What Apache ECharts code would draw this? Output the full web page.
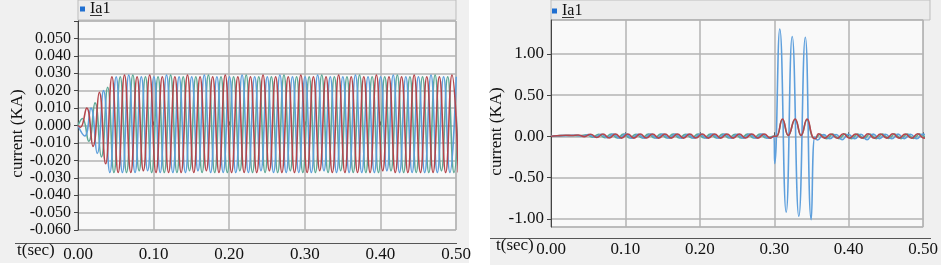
<!DOCTYPE html>
<html>
<head>
<meta charset="utf-8">
<script src="https://cdn.jsdelivr.net/npm/echarts@6/dist/echarts.min.js"></script>
<style>
html,body{margin:0;padding:0;background:#fff;}
#chart{width:941px;height:265px;}
</style>
</head>
<body>
<div id="chart"></div>
<script>
//半周期（从波峰间距读出，60Hz）
var halfPeriod = 0.00833;

//左图：正常运行 各相波峰值
var leftRedStart = 0.0032;
var leftRedPeaks = [-0.001, 0.010, -0.012, 0.019, -0.022, 0.028,
	-0.027, 0.029, -0.027, 0.028, -0.026, 0.029, -0.027, 0.028, -0.027, 0.028,
	-0.027, 0.029, -0.027, 0.028, -0.026, 0.028, -0.027, 0.029, -0.027, 0.028,
	-0.027, 0.028, -0.027, 0.029, -0.026, 0.028, -0.027, 0.028, -0.027, 0.029,
	-0.027, 0.028, -0.026, 0.028, -0.027, 0.029, -0.027, 0.028, -0.027, 0.028,
	-0.027, 0.029, -0.026, 0.028, -0.027, 0.028, -0.027, 0.029, -0.027, 0.028,
	-0.027, 0.028, -0.027, 0.029, -0.027];
var leftBlueStart = 0.0088;
var leftBluePeaks = [-0.006, 0.010, -0.016, 0.020, -0.027,
	0.028, -0.027, 0.029, -0.027, 0.028, -0.026, 0.028, -0.027, 0.029, -0.027,
	0.028, -0.027, 0.028, -0.026, 0.029, -0.027, 0.028, -0.027, 0.028, -0.027,
	0.029, -0.027, 0.028, -0.026, 0.028, -0.027, 0.029, -0.027, 0.028, -0.027,
	0.028, -0.027, 0.029, -0.026, 0.028, -0.027, 0.028, -0.027, 0.029, -0.027,
	0.028, -0.027, 0.028, -0.026, 0.029, -0.027, 0.028, -0.027, 0.028, -0.027,
	0.029, -0.027, 0.028, -0.027, 0.028];
var leftTealStart = 0.0059;
var leftTealPeaks = [0.004, -0.009, 0.013, -0.018, 0.022, -0.027,
	0.028, -0.027, 0.029, -0.026, 0.028, -0.027, 0.028, -0.027, 0.029, -0.027,
	0.028, -0.026, 0.028, -0.027, 0.029, -0.027, 0.028, -0.027, 0.028, -0.026,
	0.029, -0.027, 0.028, -0.027, 0.028, -0.027, 0.029, -0.026, 0.028, -0.027,
	0.028, -0.027, 0.029, -0.027, 0.028, -0.026, 0.028, -0.027, 0.029, -0.027,
	0.028, -0.027, 0.028, -0.026, 0.029, -0.027, 0.028, -0.027, 0.028, -0.027,
	0.029, -0.026, 0.028, -0.027, 0.028];

//右图：故障前 各相波峰值
var rightRedPre = [0.004, 0.008, 0.012, 0.010, 0.016, -0.004, 0.024, -0.014, 0.028, -0.020,
	0.028, -0.022, 0.027, -0.022, 0.028, -0.021, 0.028, -0.022, 0.027, -0.022,
	0.028, -0.022, 0.028, -0.021, 0.027, -0.022, 0.028, -0.022, 0.028, -0.022,
	0.027, -0.021, 0.028, -0.022, 0.028, -0.022];
var rightBluePre = [0.006, 0.008, 0.010, 0.012, 0.002, 0.020, -0.012, 0.024, -0.018,
	0.026, -0.024, 0.026, -0.024, 0.025, -0.024, 0.026, -0.023, 0.026, -0.024, 0.026,
	-0.024, 0.025, -0.024, 0.026, -0.024, 0.026, -0.023, 0.026, -0.024, 0.025,
	-0.024, 0.026, -0.024, 0.026, -0.024];
var rightTealPre = [0.004, 0.008, 0.010, 0.010, 0.006, 0.018, -0.010, 0.024, -0.016,
	0.026, -0.020, 0.026, -0.021, 0.025, -0.020, 0.026, -0.020, 0.026, -0.021, 0.026,
	-0.020, 0.025, -0.020, 0.026, -0.021, 0.026, -0.020, 0.026, -0.020, 0.025,
	-0.021, 0.026, -0.020, 0.026, -0.020];

//故障期间 [时间, 电流]
var blueFault = [[0.2995, 0.00], [0.3006, -0.33], [0.3074, 1.30], [0.3160, -0.92], [0.3241, 1.21],
	[0.3330, -0.97], [0.3417, 1.20], [0.3496, -1.01], [0.3545, -0.01]];
var redFault = [[0.2995, 0.00], [0.3029, 0.00], [0.3110, 0.21], [0.3188, 0.01], [0.3280, 0.21],
	[0.3360, 0.01], [0.3440, 0.21], [0.3514, -0.01], [0.3550, -0.03]];
var tealFault = [[0.2995, 0.00], [0.3029, 0.00], [0.3110, 0.20], [0.3188, 0.01], [0.3280, 0.20],
	[0.3360, 0.01], [0.3440, 0.20], [0.3514, -0.01], [0.3550, -0.02]];

//故障切除后
var rightRedPostStart = 0.3595;
var rightRedPost = [0.030, -0.022, 0.028, -0.024, 0.030, -0.022, 0.028, -0.022, 0.030, -0.024,
	0.028, -0.022, 0.030, -0.022, 0.028, -0.024, 0.030, -0.022, 0.028];
var rightBluePostStart = 0.358;
var rightBluePost = [-0.045, 0.020, -0.030, 0.022, -0.040, 0.024, -0.030, 0.024, -0.040, 0.026,
	-0.028, 0.024, -0.030, 0.026, -0.028, 0.024, -0.030, 0.026, -0.028];
var rightTealPostStart = 0.362;
var rightTealPost = [0.024, -0.030, 0.026, -0.028, 0.028, -0.030, 0.026, -0.026, 0.028, -0.028,
	0.026, -0.026, 0.028, -0.028, 0.026, -0.026, 0.028, -0.026];

var timeTicks = [0, 0.1, 0.2, 0.3, 0.4, 0.5];

var colorRed = '#b4464c';
var colorBlue = '#5e9fdc';
var colorTeal = '#5ea996';
var colorDark = '#4e2426';
var fontName = '"Liberation Serif", "Times New Roman", "DejaVu Serif", serif';

function buildWave(start, peaks){
	var pts = [];
	for (var i = 0; i < peaks.length; i++){
		pts.push([start + i * halfPeriod, peaks[i]]);
	}
	return pts;
}

var leftRed = [[0, 0]].concat(buildWave(leftRedStart, leftRedPeaks));
var leftBlue = [[0, 0]].concat(buildWave(leftBlueStart, leftBluePeaks));
var leftTeal = [[0, 0]].concat(buildWave(leftTealStart, leftTealPeaks));

var rightRed = [[0, 0]].concat(buildWave(leftRedStart, rightRedPre), redFault, buildWave(rightRedPostStart, rightRedPost));
var rightBlue = [[0, 0]].concat(buildWave(leftBlueStart, rightBluePre), blueFault, buildWave(rightBluePostStart, rightBluePost));
var rightTeal = [[0, 0]].concat(buildWave(leftTealStart, rightTealPre), tealFault, buildWave(rightTealPostStart, rightTealPost));

function xAxisOpt(gridIndex, offset){
	return {
		type: 'value',
		gridIndex: gridIndex,
		min: timeTicks[0],
		max: timeTicks[timeTicks.length - 1],
		interval: 0.1,
		offset: offset,
		axisLine: {show: false},
		axisTick: {show: true, inside: true, length: 4, lineStyle: {color: '#555'}},
		axisLabel: {
			margin: 3,
			color: '#111',
			fontFamily: fontName,
			fontSize: 17,
			formatter: function(v){ return v.toFixed(2); }
		},
		splitLine: {show: true, lineStyle: {color: '#b3b3b3', width: 1.5}}
	};
}

function seriesOpt(name, idx, data, color){
	return {
		name: name,
		type: 'line',
		xAxisIndex: idx,
		yAxisIndex: idx,
		data: data,
		showSymbol: false,
		symbol: 'none',
		smooth: 0.5,
		clip: true,
		lineStyle: {color: color, width: 1.6},
		itemStyle: {color: color},
		silent: true
	};
}

function legendOpt(left, top){
	return {
		data: [{name: 'Ia1', itemStyle: {color: '#1f6fd1'}}],
		left: left, top: top,
		padding: 0,
		icon: 'rect', itemWidth: 5, itemHeight: 5,
		selectedMode: false,
		textStyle: {color: '#111', fontFamily: fontName, fontSize: 16}
	};
}

var myChart = echarts.init(document.getElementById('chart'));
var option = {
	animation: false,
	backgroundColor: '#ffffff',
	textStyle: {fontFamily: fontName},
	graphic: [
		{type: 'rect', z: -10, shape: {x: 0, y: 0, width: 469, height: 263}, style: {fill: '#f0f0f0'}},
		{type: 'rect', z: -10, shape: {x: 490, y: 0, width: 451, height: 265}, style: {fill: '#f0f0f0'}},
		{type: 'rect', z: -9, shape: {x: 78, y: 0, width: 378, height: 20}, style: {fill: '#ececec', stroke: '#bdbdbd', lineWidth: 1}},
		{type: 'rect', z: -9, shape: {x: 551, y: 0, width: 379, height: 20}, style: {fill: '#ececec', stroke: '#bdbdbd', lineWidth: 1}},
		{type: 'line', shape: {x1: 15, y1: 243.5, x2: 457, y2: 243.5}, style: {stroke: '#555', lineWidth: 1}},
		{type: 'line', shape: {x1: 490, y1: 238.5, x2: 931, y2: 238.5}, style: {stroke: '#555', lineWidth: 1}},
		{type: 'line', shape: {x1: 90, y1: 15.5, x2: 102, y2: 15.5}, style: {stroke: '#333', lineWidth: 1}},
		{type: 'line', shape: {x1: 562, y1: 17.5, x2: 574, y2: 17.5}, style: {stroke: '#333', lineWidth: 1}},
		{type: 'text', left: 17, top: 242, style: {text: 't(sec)', fill: '#111', font: '17px "Liberation Serif", "Times New Roman", serif'}},
		{type: 'text', left: 496, top: 237, style: {text: 't(sec)', fill: '#111', font: '17px "Liberation Serif", "Times New Roman", serif'}}
	],
	legend: [legendOpt(80, 1), legendOpt(552, 3)],
	grid: [
		{left: 78, right: 485, top: 21, bottom: 35, show: true, backgroundColor: '#f9f9f9', borderColor: '#b3b3b3', borderWidth: 1},
		{left: 551, right: 11, top: 20, bottom: 38, show: true, backgroundColor: '#f9f9f9', borderColor: '#b3b3b3', borderWidth: 1}
	],
	xAxis: [xAxisOpt(0, 13), xAxisOpt(1, 11)],
	yAxis: [
		{
			type: 'value',
			gridIndex: 0,
			min: -0.06,
			max: 0.06,
			interval: 0.01,
			name: 'current (KA)',
			nameLocation: 'middle',
			nameGap: 50,
			nameTextStyle: {color: '#111', fontFamily: fontName, fontSize: 17, padding: [0, 16, 0, 0]},
			axisLine: {show: true, lineStyle: {color: '#444'}},
			axisTick: {show: true, length: 4, lineStyle: {color: '#444'}},
			axisLabel: {
				margin: 7,
				color: '#111',
				fontFamily: fontName,
				fontSize: 16,
				formatter: function(v){ return v > 0.055 ? '' : v.toFixed(3); }
			},
			splitLine: {show: true, lineStyle: {color: '#b3b3b3', width: 1.5}}
		},
		{
			type: 'value',
			gridIndex: 1,
			min: -1.1,
			max: 1.41,
			splitNumber: 5,
			name: 'current (KA)',
			nameLocation: 'middle',
			nameGap: 41,
			nameTextStyle: {color: '#111', fontFamily: fontName, fontSize: 17, padding: [0, 16, 0, 0]},
			axisLine: {show: true, lineStyle: {color: '#444'}},
			axisTick: {show: true, length: 4, lineStyle: {color: '#444'}},
			axisLabel: {
				margin: 7,
				color: '#111',
				fontFamily: fontName,
				fontSize: 17,
				showMinLabel: false,
				showMaxLabel: false,
				formatter: function(v){
					if (Math.abs(v * 2 - Math.round(v * 2)) > 1e-6) return '';
					return v.toFixed(2);
				}
			},
			splitLine: {show: true, lineStyle: {color: '#b3b3b3', width: 1.5}}
		}
	],
	visualMap: [{
		type: 'piecewise',
		show: false,
		seriesIndex: 5,
		dimension: 0,
		pieces: [
			{lt: 0.3, color: colorRed},
			{gte: 0.3, lte: 0.354, color: colorDark},
			{gt: 0.354, color: colorRed}
		]
	}],
	series: [
		seriesOpt('Ic1', 0, leftTeal, colorTeal),
		seriesOpt('Ia1', 0, leftBlue, colorBlue),
		seriesOpt('Ib1', 0, leftRed, colorRed),
		seriesOpt('Ic1', 1, rightTeal, colorTeal),
		seriesOpt('Ia1', 1, rightBlue, colorBlue),
		seriesOpt('Ib1', 1, rightRed, colorRed)
	]
};
myChart.setOption(option);
</script>
</body>
</html>
